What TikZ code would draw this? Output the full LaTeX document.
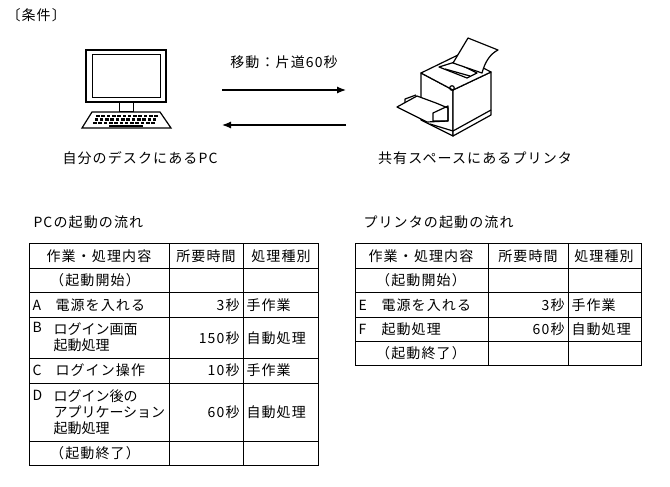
\documentclass[tikz,border=0pt]{standalone}
\usepackage{fontspec}
\usetikzlibrary{arrows.meta}
\setmainfont{Noto Sans CJK JP}[LetterSpace=8]
\begin{document}
\begin{tikzpicture}[x=1pt,y=-1pt,line width=1pt,
 t/.style={font=\fontsize{14}{16}\selectfont,inner sep=0pt},
 tl/.style={t,anchor=west},tr/.style={t,anchor=east},
 tl2/.style={t,anchor=west,align=left,font=\fontsize{14}{16}\selectfont\addfontfeatures{LetterSpace=0}},
 arr/.style={line width=1.2pt,-{Latex[length=9pt,width=7pt]}}]
\useasboundingbox (0,0) rectangle (670,487);
\node[tl] (cond) at (6,15) {〔条件〕};
% PC
\draw[line width=1.2pt] (86,50) rectangle (166,102);
\draw (92,55) rectangle (160,98);
\draw (119,102) rectangle (133,112);
\draw[line width=1.2pt] (92,112) -- (160,112) -- (171,128) -- (82,128) -- cycle;
\foreach \r in {0,1,2}{\foreach \c in {0,...,11}{
  \fill ({96+\c*5.3-\r*1.5},{115+\r*3.4}) rectangle ++(3.6,2.2);}}
\fill (109,125) rectangle (143,127);
\node[t] (pcl) at (140,158) {自分のデスクにあるPC};
% arrows
\coordinate (a1) at (222,90); \coordinate (a2) at (346,90);
\coordinate (b1) at (346,125); \coordinate (b2) at (222,125);
\draw[arr] (a1) -- (a2);
\draw[arr] (b1) -- (b2);
\node[t] (mv) at (284,62) {移動：片道60秒};
% printer
\begin{scope}[line width=1.2pt,line join=round]
\draw[fill=white] (421,73) -- (453,90) -- (453,136) -- (421,120) -- cycle;
\draw[fill=white] (453,90) -- (491,72) -- (491,115) -- (453,136) -- cycle;
\draw[fill=white] (421,73) -- (458,55) -- (491,72) -- (453,90) -- cycle;
\draw (430,124) -- (453,131) -- (491,110);
\draw (439,67) -- (455,62) -- (477,73) -- (467,78) -- cycle;
\draw (445,69) -- (470,76);
\draw[fill=white] (453,63) -- (468,38) -- (498,50) .. controls (490,54) and (485,62) .. (482,73) -- cycle;
\draw (452,88) circle (2.3);
\draw[fill=white] (397,107) -- (417,96) -- (436,103) -- (448,108) -- (448,121) -- (427,122) -- cycle;
\draw (405,103) -- (405,99) -- (416,95);
\draw (433,113) -- (448,106) -- (448,121) -- (433,121) -- cycle;
\end{scope}
\node[t] (prl) at (475,158) {共有スペースにあるプリンタ};
% PC table
\node[tl] (pct) at (33,222) {PCの起動の流れ};
\draw (29,243) rectangle (318,465);
\draw (169,243) -- (169,465); \draw (243,243) -- (243,465);
\foreach \y in {268,292,317,358,383,441} \draw (29,\y) -- (318,\y);
\node[t] (h1) at (99,256) {作業・処理内容};
\node[t] (h2) at (206,256) {所要時間};
\node[t] (h3) at (281,256) {処理種別};
\node[t] (s0) at (95,280) {（起動開始）};
\node[tl] (la) at (32,305) {A}; \node[tl] (ta) at (55,305) {電源を入れる};
\node[tr] (ma) at (240,305) {3秒}; \node[tl] (ka) at (246,305) {手作業};
\node[tl] (lb) at (32,327) {B}; \node[tl2] (tb) at (53,337) {ログイン画面\\起動処理};
\node[tr] (mb) at (240,338) {150秒}; \node[tl] (kb) at (246,338) {自動処理};
\node[tl] (lc) at (32,370) {C}; \node[tl] (tc) at (55,370) {ログイン操作};
\node[tr] (mc) at (240,370) {10秒}; \node[tl] (kc) at (246,370) {手作業};
\node[tl] (ld) at (32,395) {D}; \node[tl2] (td) at (53,412) {ログイン後の\\アプリケーション\\起動処理};
\node[tr] (md) at (240,412) {60秒}; \node[tl] (kd) at (246,412) {自動処理};
\node[t] (s1) at (95,453) {（起動終了）};
% printer table
\node[tl] (prt) at (363,222) {プリンタの起動の流れ};
\draw (355,243) rectangle (641,365);
\draw (488,243) -- (488,365); \draw (568,243) -- (568,365);
\foreach \y in {268,292,317,341} \draw (355,\y) -- (641,\y);
\node[t] (g1) at (421,256) {作業・処理内容};
\node[t] (g2) at (528,256) {所要時間};
\node[t] (g3) at (604,256) {処理種別};
\node[t] (u0) at (421,280) {（起動開始）};
\node[tl] (le) at (358,305) {E}; \node[tl] (te) at (381,305) {電源を入れる};
\node[tr] (me) at (565,305) {3秒}; \node[tl] (ke) at (571,305) {手作業};
\node[tl] (lf) at (358,329) {F}; \node[tl] (tf) at (381,329) {起動処理};
\node[tr] (mf) at (565,329) {60秒}; \node[tl] (kf) at (571,329) {自動処理};
\node[t] (u1) at (421,353) {（起動終了）};
\end{tikzpicture}
\end{document}
